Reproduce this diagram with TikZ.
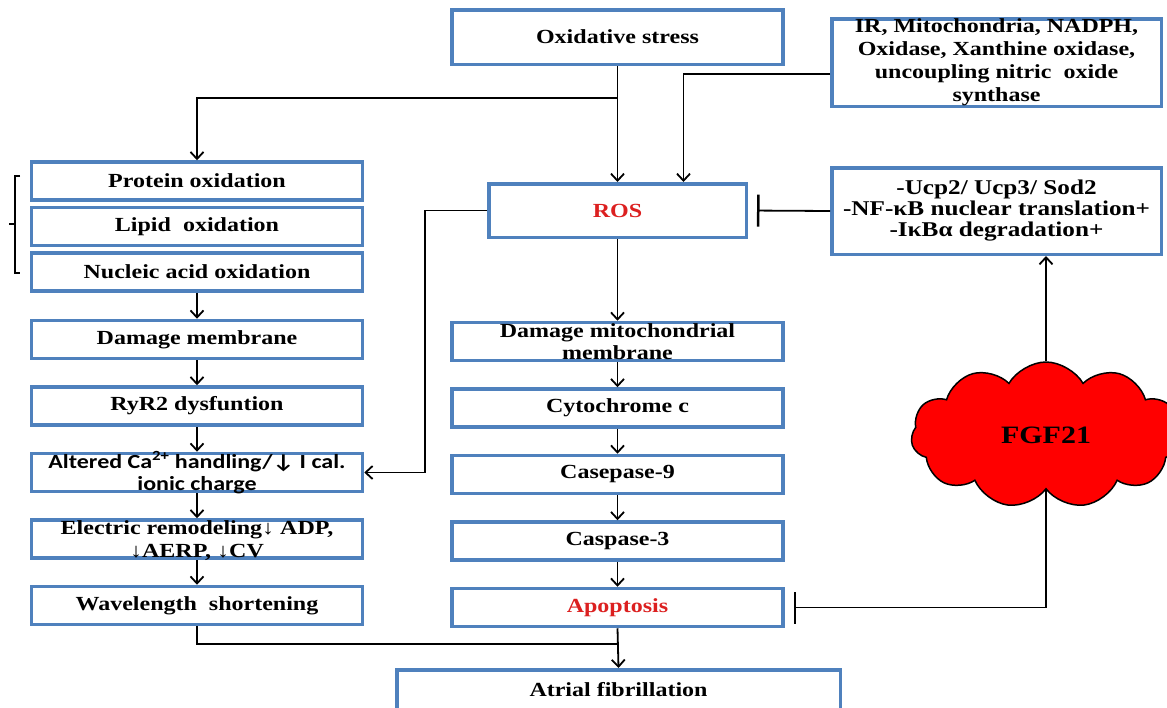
\documentclass[tikz,border=0pt]{standalone}
\usepackage{fontspec}
\setmainfont{Liberation Serif}[FakeStretch=1.2]
\newfontfamily\calfont{Carlito}[FakeStretch=1.2]
\usetikzlibrary{shapes,arrows.meta,positioning}

\definecolor{boxblue}{RGB}{79,129,189}
\definecolor{rosred}{RGB}{220,32,32}

\tikzset{
    box/.style={rectangle, draw=boxblue, line width=3.5pt, fill=white, align=center,
        inner sep=0pt, minimum width=331pt, minimum height=38pt,
        font=\fontsize{20}{22}\selectfont\bfseries},
    tightbox/.style={box, text height=36pt, text depth=0pt,
        font=\fontsize{20}{22.5}\selectfont\bfseries},
    arr/.style={line width=1.8pt, -{Straight Barb[length=7pt,width=13pt,line width=1.8pt]}},
    inhib/.style={line width=1.8pt, -{Bar[width=32pt,line width=2.5pt]}, shorten >=9pt},
    link/.style={line width=1.8pt}
}

\begin{document}
\begin{tikzpicture}[x=1pt,y=-1pt]
    \useasboundingbox (0,0) rectangle (1167,707);

    	%-----Top-----
        % Oxidative stress
        \node [box, minimum height=54.5pt] (ox) at (617.5,37) {Oxidative stress};

        % Sources of ROS
        \node [box, minimum width=329.5pt, minimum height=87.5pt,
            font=\fontsize{20}{23}\selectfont\bfseries] (src) at (996.5,62.5) {%
            IR, Mitochondria, NADPH, \\
            Oxidase, Xanthine oxidase, \\
            uncoupling nitric\ \ oxide \\
            synthase
        };

        % ROS
        \node [box, minimum width=257.5pt, minimum height=53.5pt, text=rosred] (ros) at (617.5,210.5) {ROS};

        % Inhibitors of ROS
        \node [box, minimum width=329.5pt, minimum height=86.5pt,
            font=\fontsize{21}{21}\selectfont\bfseries] (inh) at (996.5,211) {%
            -Ucp2/ Ucp3/ Sod2 \\
            -NF-κB nuclear translation+ \\
            -IκBα degradation+
        };

        %-----Left column-----
        % Oxidation
        \node [box] (prot) at (197,181) {Protein oxidation};
        \node [box, below=4pt of prot] (lip) {Lipid\ \ oxidation};
        \node [box, below=4pt of lip] (nuc) {Nucleic acid oxidation};

        % Membrane and calcium
        \node [box, below=26pt of nuc] (dmem) {Damage membrane};
        \node [box, below=25pt of dmem] (ryr) {RyR2 dysfuntion};
        \node [tightbox, below=25pt of ryr, font=\fontsize{20}{22.5}\selectfont\calfont\bfseries] (alt) {%
            Altered Ca\textsuperscript{2+} handling/↓ I cal. \\
            ionic charge
        };

        % Remodeling
        \node [tightbox, below=25pt of alt] (elec) {%
            Electric remodeling↓ ADP, \\
            ↓AERP, ↓CV
        };
        \node [box, below=25pt of elec] (wav) {Wavelength\ \ shortening};

        %-----Middle column-----
        % Apoptosis path
        \node [tightbox] (mito) at (617.5,341.5) {%
            Damage mitochondrial \\
            membrane
        };
        \node [box, below=25pt of mito] (cyt) {Cytochrome c};
        \node [box, below=25pt of cyt] (cas9) {Casepase-9};
        \node [box, below=25pt of cas9] (cas3) {Caspase-3};
        \node [box, below=25pt of cas3, text=rosred] (apo) {Apoptosis};

        % Atrial fibrillation
        \node [box, minimum width=443.5pt, minimum height=40.5pt] (af) at (618.5,690) {Atrial fibrillation};

        %-----FGF21-----
        \node [cloud, cloud puffs=11, cloud puff arc=120, aspect=1.8, draw=black, line width=1.5pt,
            fill=red, minimum width=270pt, minimum height=146pt,
            font=\fontsize{25}{28}\selectfont\bfseries] (fgf) at (1046,435) {FGF21};

        %-----Bracket-----
        \draw [line width=1.2pt] (20,176) -- (15,176) -- (15,273) -- (20,273)
            (15,224) -- (9,224);

        %-----Arrows-----
        \draw [arr] (ox.south) -- (ros.north);
        \draw [arr] ([yshift=-32pt]ox.south) -| (prot.north);
        \draw [arr] ([yshift=-11.5pt]src.west) -| ([xshift=66pt]ros.north);
        \draw [inhib] (inh.west) -- (ros.east);
        \draw [arr] (ros.west) -- ++(-62,0) |- (alt.east);
        \foreach \a/\b in {nuc/dmem, dmem/ryr, ryr/alt, alt/elec, elec/wav,
                           ros/mito, mito/cyt, cyt/cas9, cas9/cas3, cas3/apo}
            \draw [arr] (\a.south) -- (\b.north);
        \draw [link] (wav.south) |- ([yshift=-16pt]apo.south);
        \draw [arr] (apo.south) -- (af.north);
        \draw [arr] (fgf.north) -- (fgf.north |- inh.south);
        \draw [inhib] (fgf.south) |- (apo.east);

    \end{tikzpicture}
\end{document}
